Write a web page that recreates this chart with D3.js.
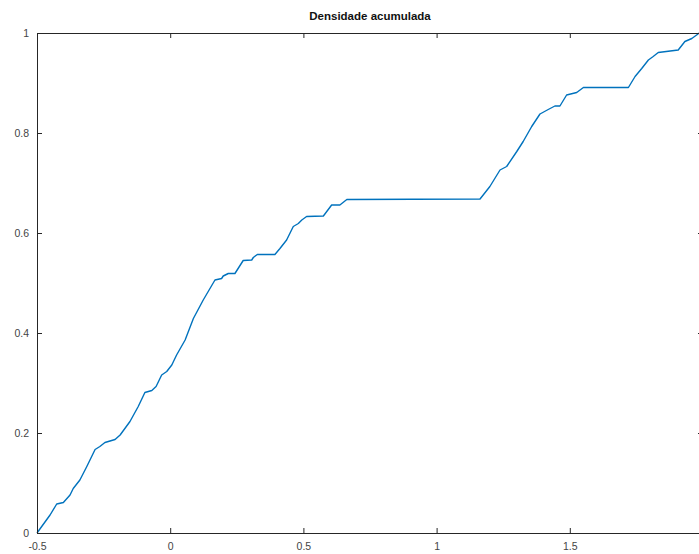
<!DOCTYPE html>
<html><head><meta charset="utf-8">
<script src="https://cdn.jsdelivr.net/npm/d3@7"></script>
<style>
html,body{margin:0;padding:0;background:#fff;overflow:hidden;}
svg{display:block;}
text{font-family:"Liberation Sans",Arial,Helvetica,sans-serif;}
</style></head>
<body>
<svg id="chart" width="699" height="554"></svg>
<script>
const title = "Densidade acumulada";
const xTicks = [-0.5, 0, 0.5, 1, 1.5, 2];
const xTickLabels = ["-0.5", "0", "0.5", "1", "1.5", ""];
const yTicks = [0, 0.2, 0.4, 0.6, 0.8, 1];
const yTickLabels = ["0", "0.2", "0.4", "0.6", "0.8", "1"];
const xValues = [-0.5,-0.451,-0.426,-0.401,-0.376,-0.364,-0.339,-0.313,-0.282,-0.264,-0.245,-0.207,-0.188,-0.151,-0.120,-0.095,-0.069,-0.053,-0.032,-0.013,0.006,0.024,0.056,0.087,0.124,0.168,0.193,0.199,0.218,0.243,0.274,0.306,0.312,0.327,0.393,0.412,0.437,0.462,0.481,0.494,0.512,0.575,0.606,0.637,0.663,1.163,1.200,1.238,1.263,1.301,1.325,1.357,1.388,1.419,1.444,1.463,1.488,1.526,1.551,1.720,1.745,1.770,1.795,1.813,1.832,1.907,1.932,1.958,1.976,1.985];
const cdfValues = [0,0.036,0.058,0.061,0.076,0.089,0.106,0.133,0.167,0.173,0.181,0.187,0.196,0.223,0.253,0.281,0.285,0.293,0.316,0.323,0.336,0.356,0.386,0.429,0.466,0.506,0.509,0.514,0.519,0.519,0.545,0.546,0.551,0.557,0.557,0.569,0.586,0.613,0.619,0.626,0.633,0.634,0.656,0.656,0.667,0.668,0.693,0.726,0.733,0.763,0.783,0.813,0.838,0.847,0.854,0.854,0.876,0.881,0.891,0.891,0.913,0.929,0.946,0.953,0.961,0.966,0.983,0.989,0.996,1.0];

const svg = d3.select("#chart");
const L = 37, R = 703, T = 33, B = 533;
const x = d3.scaleLinear().domain([-0.5, 2]).range([L, R]);
const y = d3.scaleLinear().domain([0, 1]).range([B, T]);
const axisColor = "#262626";
const labelColor = "#444";

const data = xValues.map((v, i) => [v, cdfValues[i]]);

// curve
svg.append("path")
  .datum(data)
  .attr("fill", "none")
  .attr("stroke", "#0072BD")
  .attr("stroke-width", 1.4)
  .attr("stroke-linejoin", "round")
  .attr("d", d3.line().x(d => x(d[0])).y(d => y(d[1])));

// axes
const fmtX = (d, i) => xTickLabels[i];
const fmtY = (d, i) => yTickLabels[i];
function styleAxis(g) {
  g.select(".domain").attr("stroke", axisColor).attr("stroke-width", 1);
  g.selectAll(".tick line").attr("stroke", axisColor).attr("stroke-width", 1);
  g.selectAll(".tick text").attr("fill", labelColor).attr("font-size", 10.5);
}
svg.append("g").attr("transform", `translate(0,${B})`)
  .call(d3.axisBottom(x).tickValues(xTicks).tickFormat(fmtX).tickSizeInner(-5).tickSizeOuter(0).tickPadding(10))
  .call(styleAxis);
svg.append("g").attr("transform", `translate(0,${T})`)
  .call(d3.axisTop(x).tickValues(xTicks).tickFormat("").tickSizeInner(-5).tickSizeOuter(0))
  .call(styleAxis);
svg.append("g").attr("transform", `translate(${L},0)`)
  .call(d3.axisLeft(y).tickValues(yTicks).tickFormat(fmtY).tickSizeInner(-5).tickSizeOuter(0).tickPadding(8))
  .call(styleAxis);
svg.append("g").attr("transform", `translate(${R},0)`)
  .call(d3.axisRight(y).tickValues(yTicks).tickFormat("").tickSizeInner(-5).tickSizeOuter(0))
  .call(styleAxis);

svg.selectAll("g").attr("font-family", null);

// title
svg.append("text")
  .attr("x", (L + R) / 2)
  .attr("y", 20)
  .attr("text-anchor", "middle")
  .attr("font-size", 11.5)
  .attr("font-weight", "bold")
  .attr("fill", "#111")
  .text(title);
</script>
</body></html>
